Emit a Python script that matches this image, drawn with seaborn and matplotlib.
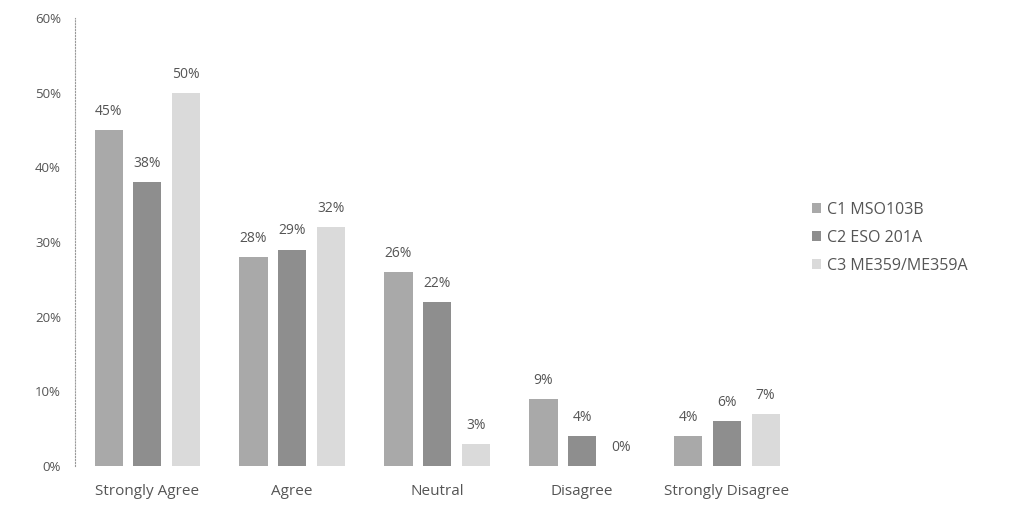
import matplotlib
matplotlib.use("Agg")
import matplotlib.pyplot as plt
import seaborn as sns
import pandas as pd

# Survey responses per class (percent of respondents)
categories = ["Strongly Agree", "Agree", "Neutral", "Disagree", "Strongly Disagree"]
series_names = ["C1 MSO103B", "C2 ESO 201A", "C3 ME359/ME359A"]
c1_values = [45, 28, 26, 9, 4]
c2_values = [38, 29, 22, 4, 6]
c3_values = [50, 32, 3, 0, 7]
y_ticks = [0, 10, 20, 30, 40, 50, 60]

colors = ["#a9a9a9", "#8e8e8e", "#dadada"]
text_color = "#555555"

rows = []
for name, vals in zip(series_names, [c1_values, c2_values, c3_values]):
    for cat, v in zip(categories, vals):
        rows.append({"Response": cat, "Class": name, "Percent": v})
df = pd.DataFrame(rows)

sns.set_theme(style="white")
plt.rcParams["font.family"] = ["Open Sans", "DejaVu Sans"]

fig = plt.figure(figsize=(10.25, 5.15), dpi=100)
ax = fig.add_axes([0.073, 0.095, 0.707, 0.87])

sns.barplot(data=df, x="Response", y="Percent", hue="Class",
            order=categories, hue_order=series_names,
            palette=colors, width=0.8, gap=0.27, ax=ax,
            edgecolor="none", saturation=1, legend=True)

for cont in ax.containers:
    ax.bar_label(cont, labels=[f"{v:.0f}%" for v in cont.datavalues],
                 padding=8, fontsize=10, color=text_color)

ax.set_ylim(0, 60)
ax.set_xlim(-0.5, 4.5)
ax.set_yticks(y_ticks)
ax.set_yticklabels([f"{t}%" for t in y_ticks], fontsize=9.5, color=text_color)
ax.tick_params(axis="x", labelsize=11, colors=text_color, pad=13, length=0)
ax.tick_params(axis="y", length=0, pad=10)
ax.set_xlabel("")
ax.set_ylabel("")

for side in ["top", "right", "bottom"]:
    ax.spines[side].set_visible(False)
ax.spines["left"].set_linestyle(":")
ax.spines["left"].set_color("#9a9a9a")
ax.spines["left"].set_linewidth(0.8)

leg = ax.legend(loc="center left", bbox_to_anchor=(0.997, 0.509), frameon=False,
                fontsize=11.5, handlelength=0.6, handleheight=0.6,
                handletextpad=0.35, labelspacing=0.75)
for t in leg.get_texts():
    t.set_color(text_color)

fig.savefig("out.png", dpi=100, facecolor="white")
